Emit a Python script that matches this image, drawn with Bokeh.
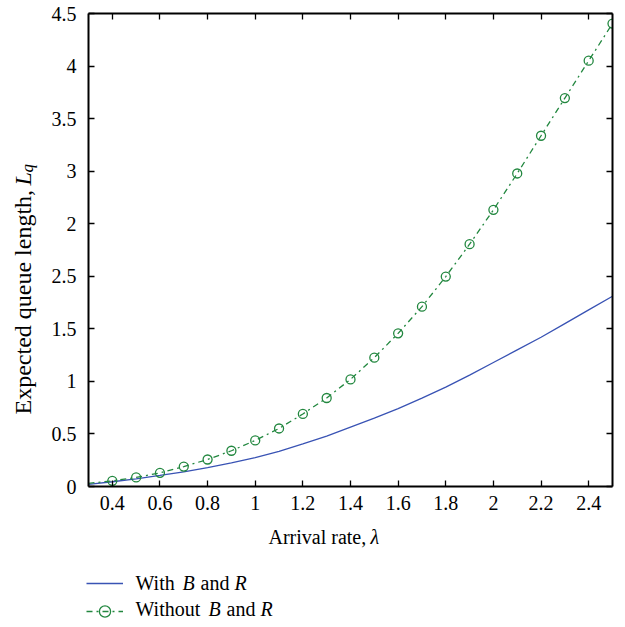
import math
from bokeh.plotting import figure
from bokeh.layouts import column, row
from bokeh.models import Range1d, LinearAxis, FixedTicker, Label, Legend, LegendItem
from bokeh.embed import file_html
from bokeh.resources import INLINE

# ---------------- data ----------------
arrival_rate = [0.3, 0.4, 0.5, 0.6, 0.7, 0.8, 0.9, 1.0, 1.1, 1.2, 1.3, 1.4,
                1.5, 1.6, 1.7, 1.8, 1.9, 2.0, 2.1, 2.2, 2.3, 2.4, 2.5]
lq_with_br = [0.02, 0.045, 0.072, 0.105, 0.14, 0.18, 0.225, 0.275, 0.335, 0.405,
              0.48, 0.565, 0.65, 0.74, 0.84, 0.945, 1.06, 1.18, 1.30, 1.42,
              1.55, 1.68, 1.81]
lq_without_br = [0.03, 0.054, 0.086, 0.13, 0.19, 0.257, 0.34, 0.438, 0.552, 0.69,
                 0.842, 1.019, 1.226, 1.457, 1.711, 1.997, 2.305, 2.632, 2.978,
                 3.337, 3.695, 4.051, 4.404]
marker_rate = arrival_rate[1:]
marker_lq = lq_without_br[1:]

x_ticks = [0.4, 0.6, 0.8, 1.0, 1.2, 1.4, 1.6, 1.8, 2.0, 2.2, 2.4]
x_tick_labels = ["0.4", "0.6", "0.8", "1", "1.2", "1.4", "1.6", "1.8", "2", "2.2", "2.4"]
y_ticks = [0.0, 0.5, 1.0, 1.5, 2.0, 2.5, 3.0, 3.5, 4.0, 4.5]
y_tick_labels = ["0", "0.5", "1", "1.5", "2.5", "2", "3", "3.5", "4", "4.5"]

BLUE = "#3953b4"
GREEN = "#22873f"
FONT = "Liberation Serif"
DASHDOT = "6 4 2 4"

# layout sizes (px)
LEFT_W = 48
MAIN_W, MAIN_H = 617 - LEFT_W, 520
TOTAL_W, TOTAL_H = LEFT_W + MAIN_W, 625
BOTTOM_H = TOTAL_H - MAIN_H

# ---------------- main chart ----------------
p = figure(width=MAIN_W, height=MAIN_H, output_backend="svg", toolbar_location=None,
           x_range=Range1d(0.3, 2.5), y_range=Range1d(0, 4.5),
           min_border_left=87 - LEFT_W, min_border_right=5, min_border_top=13,
           min_border_bottom=34)
p.xgrid.visible = False
p.ygrid.visible = False
p.outline_line_color = None
p.add_layout(LinearAxis(), "above")
p.add_layout(LinearAxis(), "right")


def style_axis(ax, ticks, labels, show, standoff):
    ax.ticker = FixedTicker(ticks=ticks)
    ax.axis_line_color = "black"
    ax.axis_line_width = 2
    ax.major_tick_line_color = "black"
    ax.major_tick_line_width = 1.3
    ax.major_tick_in = 6
    ax.major_tick_out = 0
    ax.minor_tick_line_color = None
    ax.axis_label = None
    if show:
        ax.major_label_overrides = {t: l for t, l in zip(ticks, labels)}
        ax.major_label_text_font = FONT
        ax.major_label_text_font_size = "20px"
        ax.major_label_text_color = "black"
        ax.major_label_standoff = standoff
    else:
        ax.major_label_overrides = {t: "" for t in ticks}
        ax.major_label_text_font_size = "0px"
        ax.major_label_standoff = 0


style_axis(p.below[0], x_ticks, x_tick_labels, True, 9)
style_axis(p.above[0], x_ticks, x_tick_labels, False, 0)
style_axis(p.left[0], y_ticks, y_tick_labels, True, 12)
style_axis(p.right[0], y_ticks, y_tick_labels, False, 0)

p.line(arrival_rate, lq_with_br, line_color=BLUE, line_width=1.3)
p.line(arrival_rate, lq_without_br, line_color=GREEN, line_width=1.3, line_dash=DASHDOT)
p.scatter(marker_rate, marker_lq, marker="circle", size=9,
          fill_color=None, line_color=GREEN, line_width=1.3)


def blank_fig(w, h):
    f = figure(width=w, height=h, output_backend="svg", toolbar_location=None,
               x_range=Range1d(0, 1), y_range=Range1d(10, 11),
               x_axis_location=None, y_axis_location=None,
               min_border=0, min_border_left=0, min_border_right=0,
               min_border_top=0, min_border_bottom=0)
    f.xgrid.visible = False
    f.ygrid.visible = False
    f.outline_line_color = None
    return f


def txt(f, h, s, px, py, italic=False, size="20px", angle=0.0, x0=0, y0=0):
    # px, py: page position of the text anchor (left end / baseline)
    f.add_layout(Label(x=px - x0, y=h - (py - y0), x_units="screen", y_units="screen",
                       text=s, text_font=FONT, text_font_size=size,
                       text_font_style="italic" if italic else "normal",
                       text_color="black", text_align="left",
                       text_baseline="alphabetic", angle=angle))


# ---------------- left strip: y axis title ----------------
lf = blank_fig(LEFT_W, MAIN_H)
txt(lf, MAIN_H, "Expected queue length,", 22, 448, size="24px", angle=math.pi / 2)
txt(lf, MAIN_H, "L", 22, 219, italic=True, size="24px", angle=math.pi / 2)
txt(lf, MAIN_H, "q", 27, 206, italic=True, size="17px", angle=math.pi / 2)

# ---------------- bottom strip: x axis title + legend ----------------
bf = blank_fig(TOTAL_W, BOTTOM_H)
rb = bf.line(arrival_rate, lq_with_br, line_color=BLUE, line_width=1.3)
rg = bf.line(arrival_rate, lq_without_br, line_color=GREEN, line_width=1.3,
             line_dash=DASHDOT)
rp = bf.scatter(marker_rate, marker_lq, marker="circle", size=9,
                fill_color=None, line_color=GREEN, line_width=1.3)
legend = Legend(items=[LegendItem(label=" ", renderers=[rb]),
                       LegendItem(label=" ", renderers=[rg, rp])],
                location=(86, TOTAL_H - 625), orientation="vertical",
                glyph_width=37, glyph_height=28, label_height=28, label_width=0,
                label_standoff=0, spacing=0, padding=0, margin=0,
                border_line_color=None, background_fill_alpha=0,
                inactive_fill_alpha=0, label_text_font_size="1px")
bf.add_layout(legend)

Y0 = MAIN_H
D = 7  # baseline correction
txt(bf, BOTTOM_H, "Arrival rate,", 268, 543 - D, y0=Y0)
txt(bf, BOTTOM_H, "λ", 370, 543 - D, italic=True, y0=Y0)
txt(bf, BOTTOM_H, "With", 135, 589 - D, y0=Y0)
txt(bf, BOTTOM_H, "B", 182, 589 - D, italic=True, y0=Y0)
txt(bf, BOTTOM_H, "and", 200, 589 - D, y0=Y0)
txt(bf, BOTTOM_H, "R", 234, 589 - D, italic=True, y0=Y0)
txt(bf, BOTTOM_H, "Without", 135, 615 - D, y0=Y0)
txt(bf, BOTTOM_H, "B", 208, 615 - D, italic=True, y0=Y0)
txt(bf, BOTTOM_H, "and", 226, 615 - D, y0=Y0)
txt(bf, BOTTOM_H, "R", 260, 615 - D, italic=True, y0=Y0)

layout = column(row(lf, p, spacing=0), bf, spacing=0)
open("out.html", "w").write(file_html(layout, INLINE))
